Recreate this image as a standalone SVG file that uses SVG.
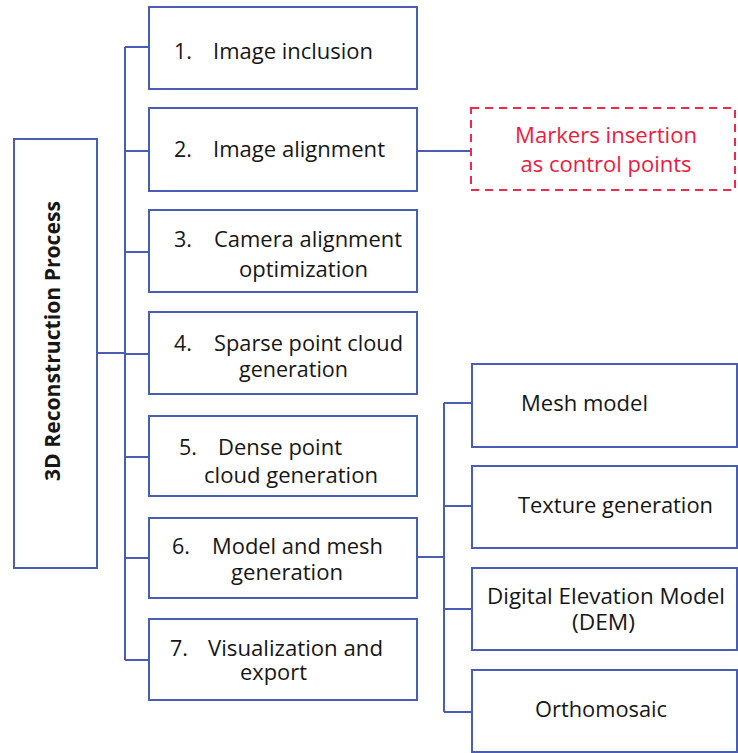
<svg xmlns="http://www.w3.org/2000/svg" width="738" height="753" viewBox="0 0 738 753">
<style>
.box{fill:#ffffff;stroke:#4a5cb4;stroke-width:2}
.dash{fill:#ffffff;stroke:#f0284e;stroke-width:2;stroke-dasharray:8 6}
.t{font-family:"Open Sans","Noto Sans","Liberation Sans",sans-serif;font-size:21.5px;fill:#161616}
.r{font-family:"Open Sans","Noto Sans","Liberation Sans",sans-serif;font-size:21.5px;fill:#ee1a3f}
.b{font-family:"Open Sans","Noto Sans","Liberation Sans",sans-serif;font-size:21px;font-weight:bold;fill:#161616}
.c{fill:none;stroke:#4a5cb4;stroke-width:2}
</style>
<rect width="738" height="753" fill="#ffffff"/>
<g id="connectors">
<path class="c" d="M97 353H125M125 47V660M125 47H149M125 151H149M125 252H149M125 354H149M125 457H149M125 558H149M125 660H149"/>
<path class="c" d="M417 151H471"/>
<path class="c" d="M417 557H444M444 403V712M444 403H472M444 506H472M444 609H472M444 712H472"/>
</g>
<g id="root">
<rect class="box" x="14" y="139" width="83" height="429"/>
<text class="b" transform="translate(60,481) rotate(-90)" textLength="280" lengthAdjust="spacingAndGlyphs">3D Reconstruction Process</text>
</g>
<g id="step1">
<rect class="box" x="149" y="7" width="268" height="82"/>
<text class="t" y="59"><tspan x="174">1.</tspan><tspan x="213" textLength="160" lengthAdjust="spacingAndGlyphs">Image inclusion</tspan></text>
</g>
<g id="step2">
<rect class="box" x="149" y="108" width="268" height="83"/>
<text class="t" y="157"><tspan x="174">2.</tspan><tspan x="213" textLength="172" lengthAdjust="spacingAndGlyphs">Image alignment</tspan></text>
</g>
<g id="markers">
<rect class="dash" x="471" y="108" width="264" height="82"/>
<text class="r" x="606" y="143" text-anchor="middle" textLength="182" lengthAdjust="spacingAndGlyphs">Markers insertion</text>
<text class="r" x="606" y="172" text-anchor="middle" textLength="171" lengthAdjust="spacingAndGlyphs">as control points</text>
</g>
<g id="step3">
<rect class="box" x="149" y="210" width="268" height="82"/>
<text class="t" y="247"><tspan x="174">3.</tspan><tspan x="214" textLength="188" lengthAdjust="spacingAndGlyphs">Camera alignment</tspan></text>
<text class="t" x="239" y="277" textLength="129" lengthAdjust="spacingAndGlyphs">optimization</text>
</g>
<g id="step4">
<rect class="box" x="149" y="312" width="268" height="82"/>
<text class="t" y="351"><tspan x="174">4.</tspan><tspan x="214" textLength="189" lengthAdjust="spacingAndGlyphs">Sparse point cloud</tspan></text>
<text class="t" x="239" y="377" textLength="109" lengthAdjust="spacingAndGlyphs">generation</text>
</g>
<g id="step5">
<rect class="box" x="149" y="416" width="268" height="80"/>
<text class="t" y="455"><tspan x="179">5.</tspan><tspan x="218" textLength="124" lengthAdjust="spacingAndGlyphs">Dense point</tspan></text>
<text class="t" x="204" y="483" textLength="174" lengthAdjust="spacingAndGlyphs">cloud generation</text>
</g>
<g id="step6">
<rect class="box" x="149" y="518" width="268" height="80"/>
<text class="t" y="554"><tspan x="172">6.</tspan><tspan x="212" textLength="171" lengthAdjust="spacingAndGlyphs">Model and mesh</tspan></text>
<text class="t" x="231" y="580" textLength="112" lengthAdjust="spacingAndGlyphs">generation</text>
</g>
<g id="step7">
<rect class="box" x="149" y="619" width="268" height="81"/>
<text class="t" y="656"><tspan x="170">7.</tspan><tspan x="208" textLength="175" lengthAdjust="spacingAndGlyphs">Visualization and</tspan></text>
<text class="t" x="240" y="680" textLength="67" lengthAdjust="spacingAndGlyphs">export</text>
</g>
<g id="mesh">
<rect class="box" x="472" y="364" width="265" height="83"/>
<text class="t" x="521" y="411" textLength="127" lengthAdjust="spacingAndGlyphs">Mesh model</text>
</g>
<g id="texture">
<rect class="box" x="472" y="466" width="265" height="82"/>
<text class="t" x="518" y="513" textLength="195" lengthAdjust="spacingAndGlyphs">Texture generation</text>
</g>
<g id="dem">
<rect class="box" x="472" y="568" width="265" height="82"/>
<text class="t" x="487" y="604" textLength="238" lengthAdjust="spacingAndGlyphs">Digital Elevation Model</text>
<text class="t" x="572" y="630" textLength="63" lengthAdjust="spacingAndGlyphs">(DEM)</text>
</g>
<g id="ortho">
<rect class="box" x="472" y="670" width="265" height="82"/>
<text class="t" x="535" y="717" textLength="132" lengthAdjust="spacingAndGlyphs">Orthomosaic</text>
</g>
</svg>
